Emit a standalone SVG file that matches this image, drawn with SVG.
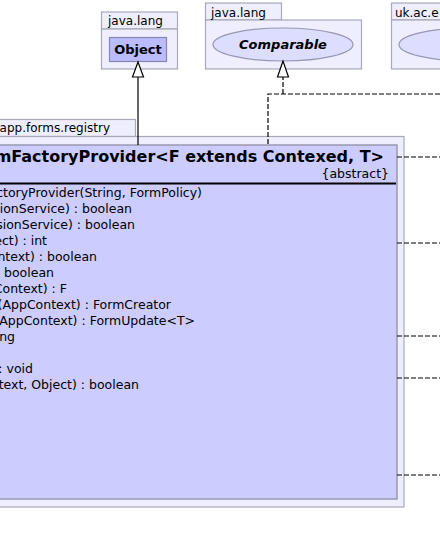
<svg xmlns="http://www.w3.org/2000/svg" width="440" height="545" viewBox="0 0 440 545">
<style>
.pkg{fill:#EEEEFF;stroke:#A8A8B8;stroke-width:1.2}
.pt{font-family:"DejaVu Sans",sans-serif;font-size:12px;fill:#000}
.cls{fill:#CCCCFF;stroke:#9898B0;stroke-width:1.5}
.m{font-family:"DejaVu Sans",sans-serif;font-size:12.5px;fill:#000;text-anchor:end}
.dash{fill:none;stroke:#000;stroke-width:1.2;stroke-dasharray:5,2}
.solid{fill:none;stroke:#000;stroke-width:1.2}
.tri{fill:#FFFFFF;stroke:#000;stroke-width:1.2}
</style>
<rect width="440" height="545" fill="#FFFFFF"/>
<g id="pkg-java-lang-object">
<rect class="pkg" x="101.5" y="12" width="76" height="17"/>
<rect class="pkg" x="101.5" y="29" width="76" height="40"/>
<text class="pt" x="108" y="25">java.lang</text>
</g>
<g id="node-object">
<rect x="109.5" y="37.5" width="57" height="24" fill="#BBBBFF" stroke="#8888A8" stroke-width="1.2"/>
<text x="138" y="54" text-anchor="middle" font-family="DejaVu Sans, sans-serif" font-size="13" font-weight="bold">Object</text>
</g>
<g id="pkg-java-lang-comparable">
<rect class="pkg" x="205.5" y="3" width="76" height="17"/>
<rect class="pkg" x="205.5" y="20" width="156" height="49"/>
<text class="pt" x="211" y="17">java.lang</text>
</g>
<g id="node-comparable">
<ellipse cx="283" cy="44.5" rx="70" ry="16.5" fill="#DDDDFF" stroke="#9898B0" stroke-width="1.2"/>
<text x="283" y="49" text-anchor="middle" font-family="DejaVu Sans, sans-serif" font-size="13" font-weight="bold" font-style="italic">Comparable</text>
</g>
<g id="pkg-uk">
<rect class="pkg" x="391.5" y="3" width="80" height="17"/>
<rect class="pkg" x="391.5" y="20" width="80" height="49"/>
<text class="pt" x="395" y="17">uk.ac.e</text>
</g>
<g id="node-uk">
<ellipse cx="469" cy="44.5" rx="70" ry="16.5" fill="#DDDDFF" stroke="#9898B0" stroke-width="1.2"/>
</g>
<g id="pkg-registry">
<rect class="pkg" x="-10" y="119.5" width="145.5" height="17"/>
<rect class="pkg" x="-10" y="136.5" width="414" height="370.5"/>
<text class="pt" x="110" y="132" text-anchor="end">app.forms.registry</text>
</g>
<g id="node-provider">
<rect class="cls" x="-10" y="145" width="407" height="354"/>
<text x="384" y="162" text-anchor="end" font-family="DejaVu Sans, sans-serif" font-size="16" font-weight="bold">mFactoryProvider&lt;F extends Contexed, T&gt;</text>
<text class="m" x="389" y="178" font-size="12">{abstract}</text>
<line x1="-10" y1="183.5" x2="396" y2="183.5" stroke="#000" stroke-width="2"/>
<text class="m" x="202" y="197">ctoryProvider(String, FormPolicy)</text>
<text class="m" x="132" y="213">ionService) : boolean</text>
<text class="m" x="135" y="229">sionService) : boolean</text>
<text class="m" x="47" y="245">ect) : int</text>
<text class="m" x="97" y="261">ntext) : boolean</text>
<text class="m" x="54" y="277">: boolean</text>
<text class="m" x="67" y="293">Context) : F</text>
<text class="m" x="171" y="309">(AppContext) : FormCreator</text>
<text class="m" x="195" y="325">(AppContext) : FormUpdate&lt;T&gt;</text>
<text class="m" x="15" y="341">ng</text>
<text class="m" x="33" y="373">: void</text>
<text class="m" x="139" y="389">text, Object) : boolean</text>
</g>
<g id="connectors">
<path class="solid" d="M138,77 V145"/>
<polygon class="tri" points="138,62 132.5,77 143.5,77"/>
<path class="dash" d="M268,144 V94 H440"/>
<path class="dash" d="M283,94 V77"/>
<polygon class="tri" points="283,61 277.5,77 288.5,77"/>
<path class="dash" d="M397,157 H440"/>
<path class="dash" d="M397,243 H440"/>
<path class="dash" d="M397,336 H440"/>
<path class="dash" d="M397,378 H440"/>
<path class="dash" d="M397,475 H440"/>
</g>
</svg>
